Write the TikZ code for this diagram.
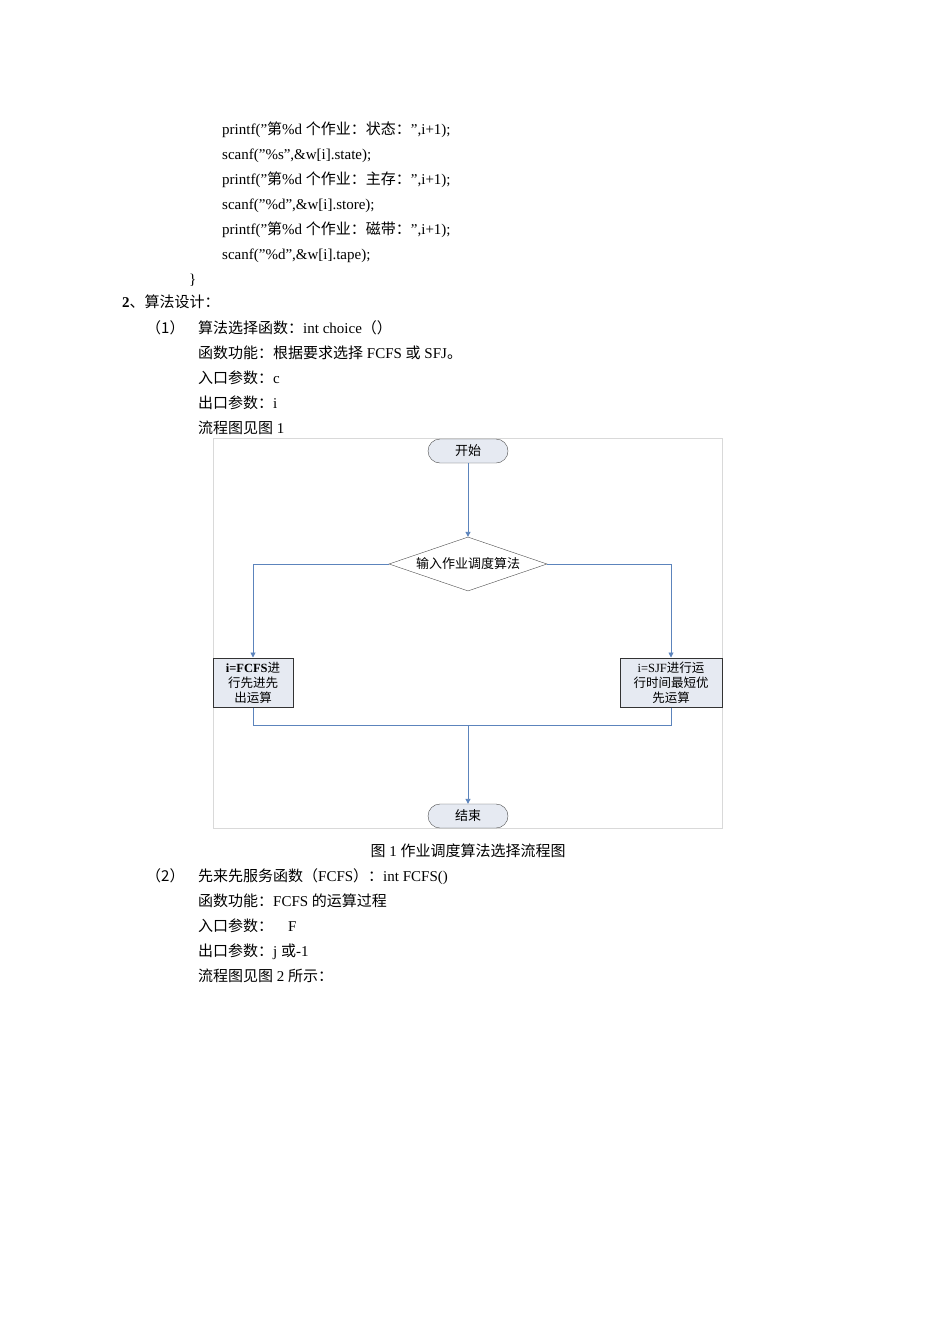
\documentclass[tikz,border=0pt]{standalone}
\usepackage{fontspec}
\setmainfont{Liberation Serif}
\newfontfamily\cjk{Noto Sans CJK SC}
\newcommand\zh[1]{{\cjk #1}}
\usetikzlibrary{shapes.geometric,arrows.meta}
\definecolor{ln}{RGB}{92,132,188}
\definecolor{bx}{RGB}{230,234,242}
\tikzset{
 txt/.style={anchor=base west,inner sep=0pt,font=\fontsize{15}{18}\selectfont},
 term/.style={draw=black!70,fill=bx,rounded corners=12pt,minimum width=80pt,minimum height=24pt,inner sep=0pt,font=\fontsize{13}{15}\selectfont},
 proc/.style={draw=black!80,line width=1pt,fill=bx,inner sep=0pt,align=center,font=\fontsize{12.5}{15}\selectfont},
 conn/.style={ln,line width=0.9pt},
 arr/.style={conn,-{Triangle[length=5pt,width=5pt]}}
}
\begin{document}
\begin{tikzpicture}[x=1pt,y=-1pt]
\useasboundingbox (0,0) rectangle (950,1344);
\fill[white] (0,0) rectangle (950,1344);
\node[txt] (l1) at (222,134) {printf("\zh{第}\%d \zh{个作业：状态：}",i+1);};
\node[txt] (l2) at (222,159) {scanf("\%s",\&w[i].state);};
\node[txt] (l3) at (222,184) {printf("\zh{第}\%d \zh{个作业：主存：}",i+1);};
\node[txt] (l4) at (222,209) {scanf("\%d",\&w[i].store);};
\node[txt] (l5) at (222,234) {printf("\zh{第}\%d \zh{个作业：磁带：}",i+1);};
\node[txt] (l6) at (222,259) {scanf("\%d",\&w[i].tape);};
\node[txt] (l7) at (189,284) {\}};
\node[txt] (h2) at (122,307) {\textbf{2}\zh{、算法设计：}};
\node[txt] (p1) at (146,333) {\zh{（1）}};
\node[txt] (q1) at (198,333) {\zh{算法选择函数：}int choice\zh{（）}};
\node[txt] (q2) at (198,358) {\zh{函数功能：根据要求选择} FCFS \zh{或} SFJ\zh{。}};
\node[txt] (q3) at (198,383) {\zh{入口参数：}c};
\node[txt] (q4) at (198,408) {\zh{出口参数：}i};
\node[txt] (q5) at (198,433) {\zh{流程图见图} 1};
\draw[black!15] (213,438) rectangle (722,828);
\node[term] (start) at (468,451) {\zh{开始}};
\node[diamond,draw=black!70,fill=white,aspect=2.9,minimum width=158pt,minimum height=54pt,inner sep=0pt,font=\fontsize{13}{15}\selectfont] (dec) at (468,564) {\zh{输入作业调度算法}};
\node[proc,minimum width=80pt,minimum height=49pt] (fcfs) at (253,682.5) {\textbf{i=FCFS}\zh{进}\\\zh{行先进先}\\\zh{出运算}};
\node[proc,minimum width=102pt,minimum height=49pt] (sjf) at (671,682.5) {i=SJF\zh{进行运}\\\zh{行时间最短优}\\\zh{先运算}};
\node[term] (end) at (468,816) {\zh{结束}};
\coordinate (j) at (468,725);
\draw[arr] (start) -- (dec);
\draw[arr] (dec.west) -| (fcfs.north);
\draw[arr] (dec.east) -| (sjf.north);
\draw[conn] (fcfs.south) |- (j);
\draw[conn] (sjf.south) |- (j);
\draw[arr] (j) -- (end);
\node[txt,anchor=base] (cap) at (468,856) {\zh{图} 1 \zh{作业调度算法选择流程图}};
\node[txt] (p2) at (146,881) {\zh{（2）}};
\node[txt] (r1) at (198,881) {\zh{先来先服务函数（}FCFS\zh{）：}int FCFS()};
\node[txt] (r2) at (198,906) {\zh{函数功能：}FCFS \zh{的运算过程}};
\node[txt] (r3) at (198,931) {\zh{入口参数：}\quad F};
\node[txt] (r4) at (198,956) {\zh{出口参数：}j \zh{或}-1};
\node[txt] (r5) at (198,981) {\zh{流程图见图} 2 \zh{所示：}};
\end{tikzpicture}
\end{document}
